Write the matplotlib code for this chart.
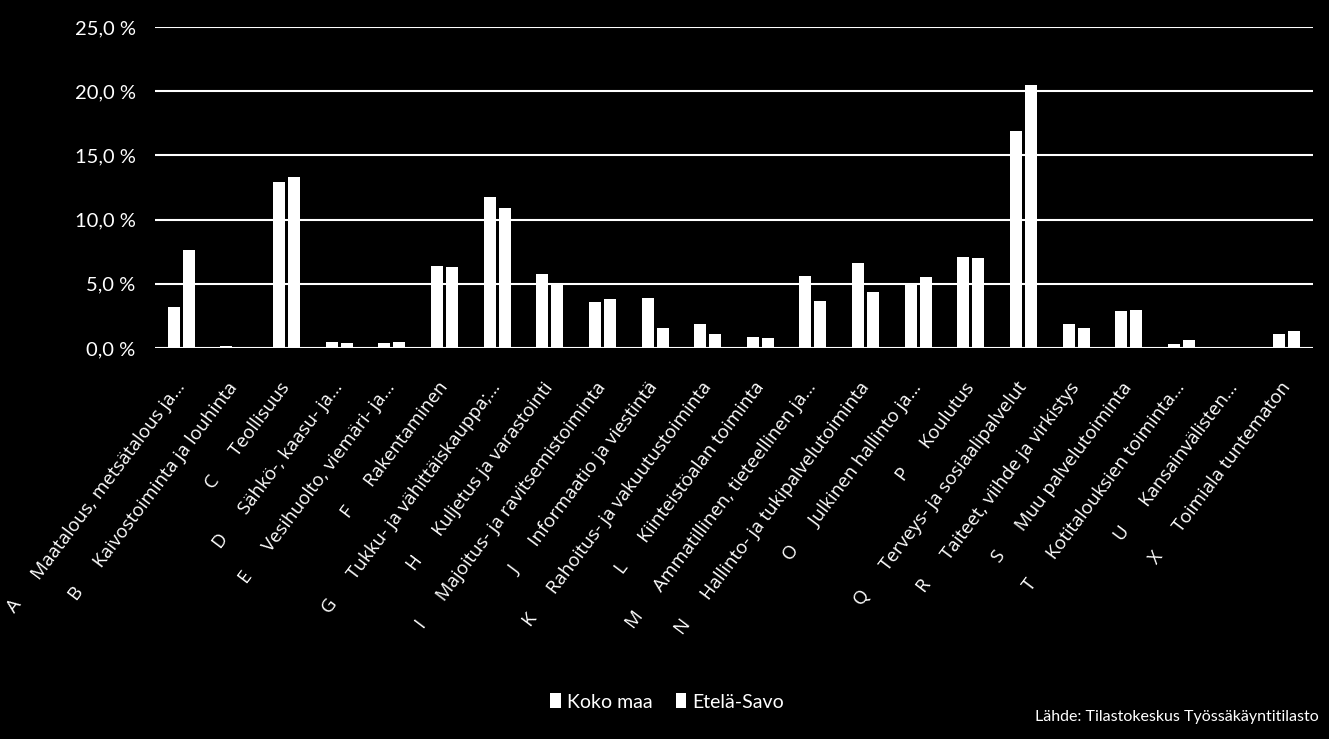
import matplotlib.pyplot as plt
import numpy as np

# toimialat (TOL 2008)
letters = ["A", "B", "C", "D", "E", "F", "G", "H", "I", "J", "K",
           "L", "M", "N", "O", "P", "Q", "R", "S", "T", "U", "X"]
names = ["Maatalous, metsätalous ja…", "Kaivostoiminta ja louhinta", "Teollisuus",
         "Sähkö-, kaasu- ja…", "Vesihuolto, viemäri- ja…", "Rakentaminen",
         "Tukku- ja vähittäiskauppa;…", "Kuljetus ja varastointi",
         "Majoitus- ja ravitsemistoiminta", "Informaatio ja viestintä",
         "Rahoitus- ja vakuutustoiminta", "Kiinteistöalan toiminta",
         "Ammatillinen, tieteellinen ja…", "Hallinto- ja tukipalvelutoiminta",
         "Julkinen hallinto ja…", "Koulutus", "Terveys- ja sosiaalipalvelut",
         "Taiteet, viihde ja virkistys", "Muu palvelutoiminta",
         "Kotitalouksien toiminta…", "Kansainvälisten…", "Toimiala tuntematon"]

koko_maa = [3.2, 0.2, 12.9, 0.5, 0.4, 6.4, 11.8, 5.8, 3.6, 3.9, 1.9,
            0.9, 5.6, 6.6, 5.1, 7.1, 16.9, 1.9, 2.9, 0.3, 0.0, 1.1]
etela_savo = [7.6, 0.1, 13.3, 0.4, 0.5, 6.3, 10.9, 5.1, 3.8, 1.6, 1.1,
              0.8, 3.7, 4.4, 5.5, 7.0, 20.5, 1.6, 3.0, 0.6, 0.0, 1.3]

narrow = ["Lato", "DejaVu Sans"]
labelfont = ["Open Sans", "DejaVu Sans"]

fig = plt.figure(figsize=(13.29, 7.39), dpi=100, facecolor="black")
ax = fig.add_axes([0.1166, 0.529, 0.8714, 0.4345], facecolor="black")

x = np.arange(len(letters))
w = 0.228
ax.bar(x - 0.142, koko_maa, w, color="white", label="Koko maa", zorder=3)
ax.bar(x + 0.142, etela_savo, w, color="white", label="Etelä-Savo", zorder=3)

ax.set_xlim(-0.5, len(letters) - 0.5)
ax.set_ylim(0, 25)
ax.set_yticks(np.arange(0, 26, 5))
ax.set_yticklabels([f"{v:.1f} %".replace(".", ",") for v in np.arange(0, 26, 5)],
                   family=narrow, fontsize=14.5, color="white")
ax.tick_params(axis="y", length=0, pad=14)
ax.grid(axis="y", color="white", linewidth=1.5, zorder=0)
for s in ax.spines.values():
    s.set_visible(False)

ax.set_xticks(x)
ax.set_xticklabels([l + "      " + n for l, n in zip(letters, names)],
                   rotation=53, ha="right", va="center", rotation_mode="anchor",
                   family=labelfont, fontsize=13.5, color="white")
ax.tick_params(axis="x", length=0, pad=26)

leg = fig.legend(loc="center", bbox_to_anchor=(0.502, 0.05), ncol=2, frameon=False,
                 prop={"family": narrow, "size": 14}, labelcolor="white",
                 handlelength=0.55, handleheight=0.8, handletextpad=0.3, columnspacing=1.2)

fig.text(0.992, 0.03, "Lähde: Tilastokeskus Työssäkäyntitilasto", ha="right", va="center",
         family=narrow, fontsize=11.5, color="white")

fig.savefig("out.png", dpi=100, facecolor="black")
